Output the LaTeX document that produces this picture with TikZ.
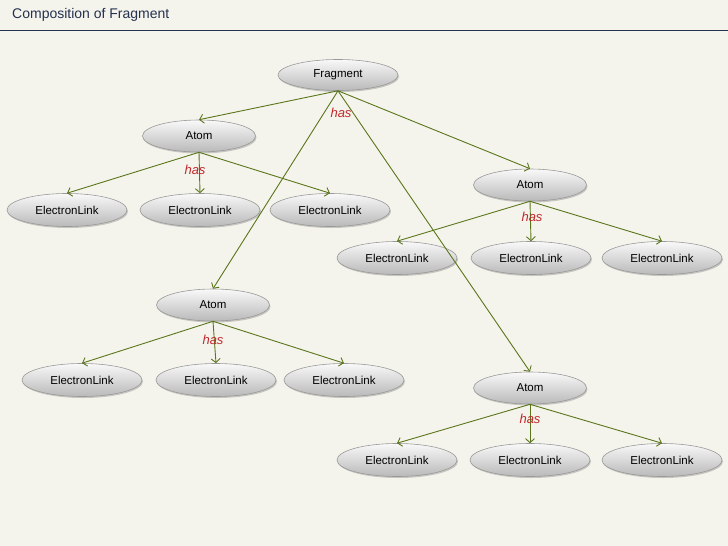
\documentclass[tikz,border=0pt]{standalone}
\usepackage{fontspec}
\setmainfont{Liberation Sans}
\usetikzlibrary{shapes.geometric,arrows.meta,shadows}
\definecolor{bgc}{HTML}{F5F4EC}
\definecolor{navy}{HTML}{24314F}
\definecolor{edgec}{HTML}{5A761C}
\definecolor{hasc}{HTML}{C0282C}
\tikzset{
  elnode/.style={ellipse, draw=gray!80, line width=0.6pt, top color=gray!5, bottom color=gray!55,
     minimum width=120pt, minimum height=33pt, inner sep=0pt, font=\fontsize{11.5}{13}\selectfont,
     drop shadow={shadow xshift=1pt, shadow yshift=-1.5pt, opacity=0.4}},
  atomnode/.style={elnode, minimum width=113pt, minimum height=32pt},
  rel/.style={draw=edgec, line width=0.9pt, -{Straight Barb[length=4pt,width=9pt]}},
  haslbl/.style={text=hasc, font=\fontsize{13}{15}\selectfont\itshape, inner sep=0pt}
}
\begin{document}
\begin{tikzpicture}[x=1pt,y=-1pt]
\fill[bgc] (0,0) rectangle (728,546);
\useasboundingbox (0,0) rectangle (728,546);
\node[anchor=west, text=navy, font=\fontsize{14}{16}\selectfont, inner sep=0pt] (title) at (12,15) {Composition of Fragment};
\draw[navy, line width=1.2pt] (0,30.5) -- (728,30.5);

\node[atomnode, minimum width=120pt, minimum height=31pt] (frag) at (338,75) {Fragment};
\node[atomnode] (a1) at (199,136) {Atom};
\node[atomnode] (a2) at (530,185) {Atom};
\node[atomnode] (a3) at (213,305) {Atom};
\node[atomnode] (a4) at (530,388) {Atom};

\node[elnode] (e11) at (67,210) {ElectronLink};
\node[elnode] (e12) at (200,210) {ElectronLink};
\node[elnode] (e13) at (330,210) {ElectronLink};
\node[elnode] (e21) at (397,258) {ElectronLink};
\node[elnode] (e22) at (531,258) {ElectronLink};
\node[elnode] (e23) at (662,258) {ElectronLink};
\node[elnode] (e31) at (82,380) {ElectronLink};
\node[elnode] (e32) at (216,380) {ElectronLink};
\node[elnode] (e33) at (344,380) {ElectronLink};
\node[elnode] (e41) at (397,460) {ElectronLink};
\node[elnode] (e42) at (530,460) {ElectronLink};
\node[elnode] (e43) at (662,460) {ElectronLink};

\draw[rel] (frag.south) -- (a1.north);
\draw[rel] (frag.south) -- (a2.north);
\draw[rel] (frag.south) -- (a3.north);
\draw[rel] (frag.south) -- (a4.north);

\foreach \a/\x/\y/\z in {a1/e11/e12/e13, a2/e21/e22/e23, a3/e31/e32/e33, a4/e41/e42/e43}{
  \draw[rel] (\a.south) -- (\x.north);
  \draw[rel] (\a.south) -- (\y.north);
  \draw[rel] (\a.south) -- (\z.north);
}

\node[haslbl] (h0) at (341,113) {has};
\node[haslbl] (h1) at (195,170) {has};
\node[haslbl] (h2) at (532,217) {has};
\node[haslbl] (h3) at (213,340) {has};
\node[haslbl] (h4) at (530,419) {has};
\end{tikzpicture}
\end{document}
